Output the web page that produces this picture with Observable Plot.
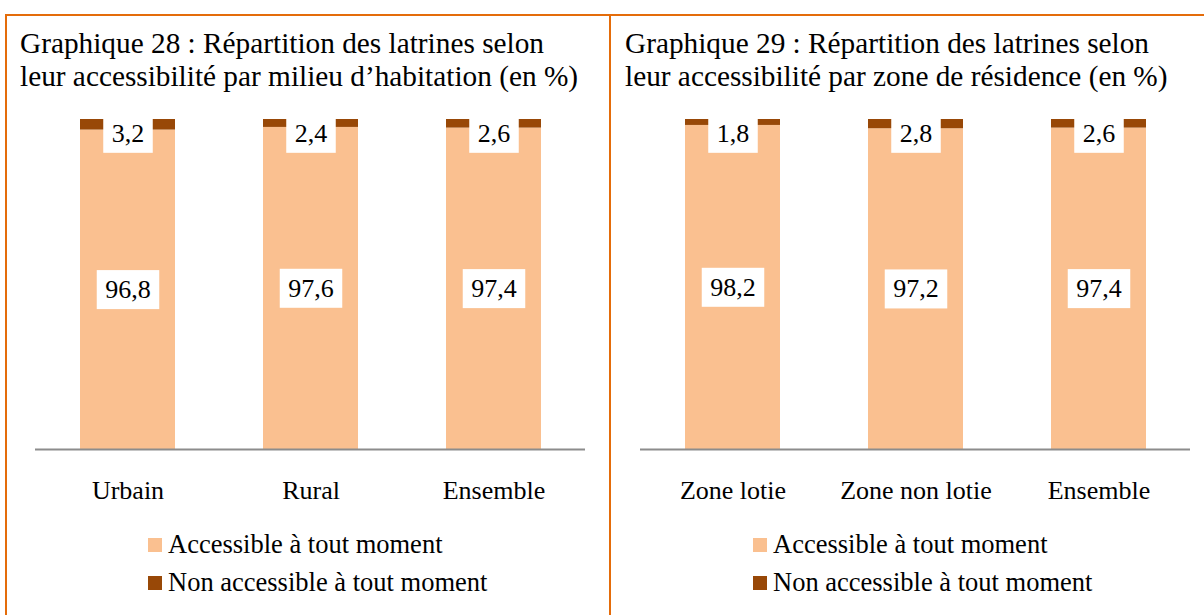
<!DOCTYPE html>
<html>
<head>
<meta charset="utf-8">
<script src="https://cdn.jsdelivr.net/npm/d3@7"></script>
<script src="https://cdn.jsdelivr.net/npm/@observablehq/plot@0.6"></script>
<style>
  body { margin: 0; background: #fff; }
  #root { position: relative; width: 1204px; height: 615px; overflow: hidden;
          font-family: "Liberation Serif", "Times New Roman", serif; color: #000; background: #fff; }
  .border { position: absolute; background: #E46C0A; }
  .title { position: absolute; top: 27px; font-size: 29.3px; line-height: 33px; white-space: nowrap; }
  .chart { position: absolute; top: 100px; width: 604px; height: 420px; }
  .chart svg { max-width: none !important; }
  .item { position: absolute; font-size: 26.5px; line-height: 30px; white-space: nowrap; }
  .sw { position: absolute; width: 14px; height: 14px; }
</style>
</head>
<body>
<div id="root">
  <div class="border" style="left:5px;top:14px;width:1199px;height:2px"></div>
  <div class="border" style="left:5px;top:14px;width:2px;height:601px"></div>
  <div class="border" style="left:609px;top:14px;width:2px;height:601px"></div>
</div>
<script>
// ---- Data ----
const series = ["Accessible à tout moment", "Non accessible à tout moment"];
const seriesColors = ["#FAC090", "#984807"];

const title1 = ["Graphique 28 : Répartition des latrines selon", "leur accessibilité par milieu d’habitation (en %)"];
const cats1 = ["Urbain", "Rural", "Ensemble"];
const accessible1 = [96.8, 97.6, 97.4];
const nonAccessible1 = [3.2, 2.4, 2.6];

const title2 = ["Graphique 29 : Répartition des latrines selon", "leur accessibilité par zone de résidence (en %)"];
const cats2 = ["Zone lotie", "Zone non lotie", "Ensemble"];
const accessible2 = [98.2, 97.2, 97.4];
const nonAccessible2 = [1.8, 2.8, 2.6];

const fmt = v => v.toFixed(1).replace(".", ",");

function buildTable(cats, acc, non) {
  const rows = [];
  cats.forEach((c, i) => rows.push({cat: c, series: series[0], value: acc[i]}));
  cats.forEach((c, i) => rows.push({cat: c, series: series[1], value: non[i]}));
  return rows;
}

function makeChart(cats, acc, non) {
  const data = buildTable(cats, acc, non);
  return Plot.plot({
    width: 604,
    height: 420,
    marginLeft: 35,
    marginRight: 19,
    marginTop: 19,
    marginBottom: 71,
    style: {fontFamily: '"Liberation Serif", "Times New Roman", serif', fontSize: "26px", background: "transparent", overflow: "visible", color: "#000", maxWidth: "none"},
    x: {type: "band", domain: cats, paddingInner: 0.482, paddingOuter: 0.24, axis: null},
    y: {domain: [0, 100], axis: null},
    color: {domain: series, range: seriesColors},
    marks: [
      Plot.barY(data, {x: "cat", y: "value", z: "series", fill: "series", order: series}),
      Plot.ruleY([0], {stroke: "#8C8C8C", strokeWidth: 2}),
      Plot.axisX({tickSize: 0, tickPadding: 31, label: null, fill: "#000"}),
      Plot.text(data, Plot.stackY({
        x: "cat", y: "value", z: "series", order: series,
        text: d => d.series === series[0] ? fmt(d.value) : null,
        fill: "#000", className: "vlab"
      })),
      Plot.text(data, Plot.stackY2({
        x: "cat", y: "value", z: "series", order: series,
        text: d => d.series === series[1] ? fmt(d.value) : null,
        dy: 14, fill: "#000", className: "vlab"
      }))
    ]
  });
}

function addPanel(offset, titleLines, cats, acc, non) {
  const root = document.getElementById("root");
  const t = document.createElement("div");
  t.className = "title";
  t.style.left = (offset + 20) + "px";
  t.innerHTML = titleLines.join("<br>");
  root.appendChild(t);

  const wrap = document.createElement("div");
  wrap.className = "chart";
  wrap.style.left = offset + "px";
  const svg = makeChart(cats, acc, non);
  wrap.appendChild(svg);
  root.appendChild(wrap);

  // white boxes behind value labels
  svg.querySelectorAll("g.vlab text").forEach(tx => {
    const bb = tx.getBBox();
    const cy = bb.y + bb.height / 2;
    const r = document.createElementNS("http://www.w3.org/2000/svg", "rect");
    r.setAttribute("x", bb.x - 8.5);
    r.setAttribute("y", cy - 19.5);
    r.setAttribute("width", bb.width + 17);
    r.setAttribute("height", 39);
    r.setAttribute("fill", "#fff");
    const tr = tx.getAttribute("transform");
    if (tr) r.setAttribute("transform", tr);
    tx.parentNode.insertBefore(r, tx);
  });

  // legend
  series.forEach((s, i) => {
    const sw = document.createElement("div");
    sw.className = "sw";
    sw.style.left = (offset + 148) + "px";
    sw.style.top = (538 + i * 38) + "px";
    sw.style.background = seriesColors[i];
    root.appendChild(sw);
    const it = document.createElement("div");
    it.className = "item";
    it.style.left = (offset + 168) + "px";
    it.style.top = (529 + i * 38) + "px";
    it.textContent = s;
    root.appendChild(it);
  });
}

addPanel(0, title1, cats1, accessible1, nonAccessible1);
addPanel(605, title2, cats2, accessible2, nonAccessible2);
</script>
</body>
</html>
